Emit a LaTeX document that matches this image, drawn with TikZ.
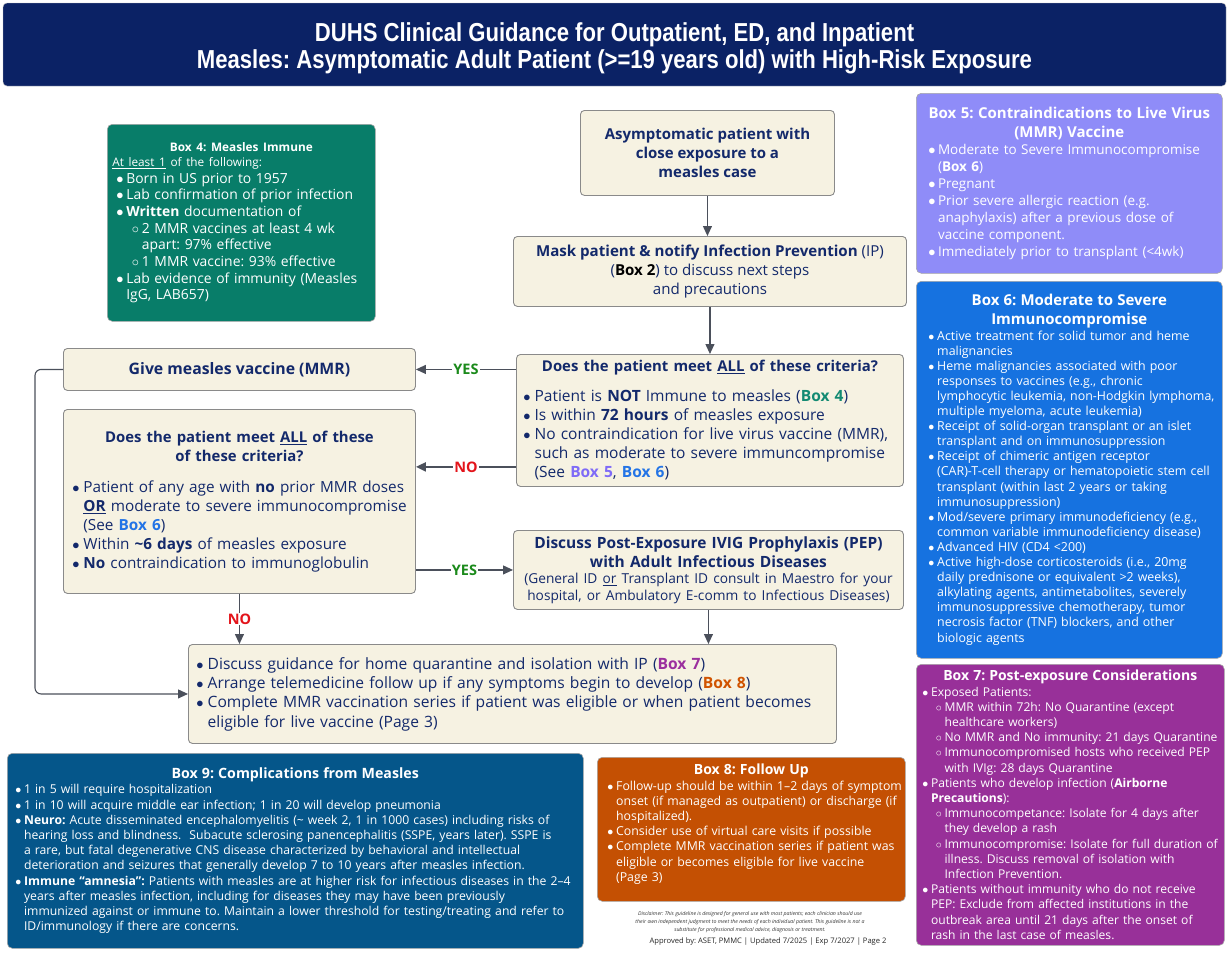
\documentclass[tikz,border=0pt]{standalone}
\usepackage{fontspec}
\setmainfont{Open Sans}
\newfontfamily\titlefont[FakeStretch=0.85]{Liberation Sans}
\usetikzlibrary{arrows.meta}
\frenchspacing

\definecolor{navybar}{HTML}{0B2265}
\definecolor{navytext}{HTML}{13296B}
\definecolor{cream}{HTML}{F6F2E2}
\definecolor{boxedge}{HTML}{8A8A8A}
\definecolor{linegray}{HTML}{4B505B}
\definecolor{boxfour}{HTML}{087D69}
\definecolor{boxfive}{HTML}{8F8CF8}
\definecolor{boxsix}{HTML}{1672E0}
\definecolor{boxseven}{HTML}{983099}
\definecolor{boxeight}{HTML}{C45003}
\definecolor{boxnine}{HTML}{05568A}
\definecolor{yesgreen}{HTML}{1B8A1B}
\definecolor{nored}{HTML}{E3141B}
\definecolor{reffour}{HTML}{138A72}
\definecolor{reffive}{HTML}{7F6BF7}
\definecolor{refsix}{HTML}{2374E6}
\definecolor{refseven}{HTML}{9B2F9E}
\definecolor{refeight}{HTML}{D05300}

% one unbreakable line per call
\newcommand{\bitem}[1]{\mbox{\makebox[0.72em][l]{$\bullet$}#1}}
\newcommand{\bcont}[1]{\mbox{\hspace*{0.72em}#1}}
\newcommand{\sbitem}[1]{\mbox{\hspace*{1.12em}\makebox[0.72em][l]{$\circ$}#1}}
\newcommand{\sbcont}[1]{\mbox{\hspace*{1.84em}#1}}
\newcommand{\headline}[1]{\makebox[\linewidth]{#1}}

\tikzset{
flow/.style={rectangle, rounded corners=4pt, draw=boxedge, line width=0.9pt, fill=cream, text=navytext, anchor=north west, inner sep=0pt},
info/.style={rectangle, rounded corners=5pt, draw=black!35, line width=0.6pt, anchor=north west, text=white, inner sep=0pt, align=left},
arrow/.style={draw=linegray, line width=1.1pt, ->, >={Triangle[length=10pt,width=9pt]}},
answer/.style={fill=white, inner sep=1pt, font=\bfseries\fontsize{14.5}{14.5}\selectfont}}

\begin{document}
\begin{tikzpicture}[x=1pt, y=-1pt]
\useasboundingbox (0,0) rectangle (1230,953);

% title bar
\node[rectangle, rounded corners=4pt, draw=black!25, fill=navybar, minimum width=1223pt, minimum height=83pt] (titlebar) at (614.5,44.5) {};
\node[text=white, align=center, font=\titlefont\bfseries\fontsize{26}{27}\selectfont] (title) at (614.5,48.5) {DUHS Clinical Guidance for Outpatient, ED, and Inpatient\\Measles: Asymptomatic Adult Patient (>=19 years old) with High-Risk Exposure};

% flow chart
\node[flow, minimum width=254pt, minimum height=85pt, align=center, font=\bfseries\fontsize{15}{19}\selectfont] (expo) at (580,110) {Asymptomatic patient with\\close exposure to a\\measles case};
\node[flow, minimum width=393pt, minimum height=70pt, align=center, font=\fontsize{15.1}{19}\selectfont] (mask) at (513,236) {\textbf{Mask patient \& notify Infection Prevention} (IP)\\(\textbf{\color{black}Box 2}) to discuss next steps\\and precautions};
\node[flow, minimum width=387pt, minimum height=132pt, text width=377pt, align=left, font=\fontsize{15.5}{19}\selectfont] (vaxcrit) at (516,354) {%
\headline{\bfseries\fontsize{14.9}{19}\selectfont Does the patient meet \underline{ALL} of these criteria?}\par\vspace{11pt}
{\leftskip=2pt
\bitem{Patient is \textbf{NOT} Immune to measles (\textbf{\color{reffour}Box 4})}\\
\bitem{Is within \textbf{72 hours} of measles exposure}\\
\bitem{No contraindication for live virus vaccine (MMR),}\\
\bcont{such as moderate to severe immuncompromise}\\
\bcont{(See \textbf{\color{reffive}Box 5}, \textbf{\color{refsix}Box 6})}\par}};
\node[flow, minimum width=352pt, minimum height=42pt, font=\bfseries\fontsize{15.8}{19}\selectfont] (givemmr) at (63,348) {Give measles vaccine (MMR)};
\node[flow, minimum width=352pt, minimum height=184pt, text width=342pt, align=left, font=\fontsize{15.3}{19}\selectfont] (ivigcrit) at (63,409) {%
\headline{\bfseries\fontsize{14.9}{19}\selectfont Does the patient meet \underline{ALL} of these}\\
\headline{\bfseries\fontsize{14.9}{19}\selectfont of these criteria?}\par\vspace{12pt}
{\leftskip=4pt
\bitem{Patient of any age with \textbf{no} prior MMR doses}\\
\bcont{\textbf{\underline{OR}} moderate to severe immunocompromise}\\
\bcont{(See \textbf{\color{refsix}Box 6})}\\
\bitem{Within \textbf{\textasciitilde 6 days} of measles exposure}\\
\bitem{\textbf{No} contraindication to immunoglobulin}\par}};
\node[flow, minimum width=390pt, minimum height=79pt, text width=384pt, align=center, font=\fontsize{15.5}{19}\selectfont] (ivig) at (513,530) {%
{\bfseries Discuss Post-Exposure IVIG Prophylaxis (PEP)\\with Adult Infectious Diseases\par}
{\fontsize{13.7}{16.5}\selectfont (General ID \underline{or} Transplant ID consult in Maestro for your\\hospital, or Ambulatory E-comm to Infectious Diseases)\par}};
\node[flow, minimum width=648pt, minimum height=99pt, text width=636pt, align=left, font=\fontsize{15.6}{19.3}\selectfont] (homecare) at (188,644) {\leftskip=2pt
\bitem{Discuss guidance for home quarantine and isolation with IP (\textbf{\color{refseven}Box 7})}\\
\bitem{Arrange telemedicine follow up if any symptoms begin to develop (\textbf{\color{refeight}Box 8})}\\
\bitem{Complete MMR vaccination series if patient was eligible or when patient becomes}\\
\bcont{eligible for live vaccine (Page 3)}\par};

% side boxes
\node[info, fill=boxfour, minimum width=268pt, minimum height=197pt, text width=258pt, font=\fontsize{13.9}{16.7}\selectfont] (immune) at (107,124) {%
\headline{\bfseries\fontsize{11.8}{14}\selectfont Box 4: Measles Immune}\par
{\fontsize{11.8}{15}\selectfont\underline{At least 1} of the following:\par}
{\leftskip=4pt
\bitem{Born in US prior to 1957}\\
\bitem{Lab confirmation of prior infection}\\
\bitem{\textbf{Written} documentation of}\\
\sbitem{2 MMR vaccines at least 4 wk}\\
\sbcont{apart: 97\% effective}\\
\sbitem{1 MMR vaccine: 93\% effective}\\
\bitem{Lab evidence of immunity (Measles}\\
\bcont{IgG, LAB657)}\par}};
\node[info, fill=boxfive, minimum width=306pt, minimum height=180pt, text width=300pt, font=\fontsize{13.5}{17}\selectfont] (contra) at (916,93) {%
{\bfseries\fontsize{15}{19}\selectfont\headline{Box 5: Contraindications to Live Virus}\\\headline{(MMR) Vaccine}\par}
{\leftskip=9pt
\bitem{Moderate to Severe Immunocompromise}\\
\bcont{(\textbf{Box 6})}\\
\bitem{Pregnant}\\
\bitem{Prior severe allergic reaction (e.g.}\\
\bcont{anaphylaxis) after a previous dose of}\\
\bcont{vaccine component.}\\
\bitem{Immediately prior to transplant (<4wk)}\par}};
\node[info, fill=boxsix, minimum width=306pt, minimum height=377pt, text width=300pt, font=\fontsize{12.4}{15.1}\selectfont] (immcomp) at (916,281) {%
{\bfseries\fontsize{15}{19}\selectfont\headline{Box 6: Moderate to Severe}\\\headline{Immunocompromise}\par}
{\leftskip=9pt
\bitem{Active treatment for solid tumor and heme}\\
\bcont{malignancies}\\
\bitem{Heme malignancies associated with poor}\\
\bcont{responses to vaccines (e.g., chronic}\\
\bcont{lymphocytic leukemia, non-Hodgkin lymphoma,}\\
\bcont{multiple myeloma, acute leukemia)}\\
\bitem{Receipt of solid-organ transplant or an islet}\\
\bcont{transplant and on immunosuppression}\\
\bitem{Receipt of chimeric antigen receptor}\\
\bcont{(CAR)-T-cell therapy or hematopoietic stem cell}\\
\bcont{transplant (within last 2 years or taking}\\
\bcont{immunosuppression)}\\
\bitem{Mod/severe primary immunodeficiency (e.g.,}\\
\bcont{common variable immunodeficiency disease)}\\
\bitem{Advanced HIV (CD4 <200)}\\
\bitem{Active high-dose corticosteroids (i.e., 20mg}\\
\bcont{daily prednisone or equivalent >2 weeks),}\\
\bcont{alkylating agents, antimetabolites, severely}\\
\bcont{immunosuppressive chemotherapy, tumor}\\
\bcont{necrosis factor (TNF) blockers, and other}\\
\bcont{biologic agents}\par}};
\node[info, fill=boxseven, minimum width=308pt, minimum height=281pt, text width=302pt, font=\fontsize{12.1}{15.2}\selectfont] (postexp) at (916,664) {%
\headline{\bfseries\fontsize{14}{15}\selectfont Box 7: Post-exposure Considerations}\par
{\leftskip=3pt
\bitem{Exposed Patients:}\\
\sbitem{MMR within 72h: No Quarantine (except}\\
\sbcont{healthcare workers)}\\
\sbitem{No MMR and No immunity: 21 days Quarantine}\\
\sbitem{Immunocompromised hosts who received PEP}\\
\sbcont{with IVIg: 28 days Quarantine}\\
\bitem{Patients who develop infection (\textbf{Airborne}}\\
\bcont{\textbf{Precautions}):}\\
\sbitem{Immunocompetance: Isolate for 4 days after}\\
\sbcont{they develop a rash}\\
\sbitem{Immunocompromise: Isolate for full duration of}\\
\sbcont{illness. Discuss removal of isolation with}\\
\sbcont{Infection Prevention.}\\
\bitem{Patients without immunity who do not receive}\\
\bcont{PEP: Exclude from affected institutions in the}\\
\bcont{outbreak area until 21 days after the onset of}\\
\bcont{rash in the last case of measles.}\par}};
\node[info, fill=boxnine, minimum width=576pt, minimum height=195pt, text width=568pt, font=\fontsize{12.2}{15.2}\selectfont] (complic) at (7,753) {%
\headline{\bfseries\fontsize{14.2}{15}\selectfont Box 9: Complications from Measles}\par
{\leftskip=4pt
\bitem{1 in 5 will require hospitalization}\\
\bitem{1 in 10 will acquire middle ear infection; 1 in 20 will develop pneumonia}\\
\bitem{\textbf{Neuro:} Acute disseminated encephalomyelitis (\textasciitilde{} week 2, 1 in 1000 cases) including risks of}\\
\bcont{hearing loss and blindness.\ \ Subacute sclerosing panencephalitis (SSPE, years later). SSPE is}\\
\bcont{a rare, but fatal degenerative CNS disease characterized by behavioral and intellectual}\\
\bcont{deterioration and seizures that generally develop 7 to 10 years after measles infection.}\\
\bitem{\textbf{Immune “amnesia”:} Patients with measles are at higher risk for infectious diseases in the 2–4}\\
\bcont{years after measles infection, including for diseases they may have been previously}\\
\bcont{immunized against or immune to. Maintain a lower threshold for testing/treating and refer to}\\
\bcont{ID/immunology if there are concerns.}\par}};
\node[info, fill=boxeight, minimum width=308pt, minimum height=144pt, text width=302pt, font=\fontsize{12.3}{15.2}\selectfont] (followup) at (597,757) {%
\headline{\bfseries\fontsize{14}{15}\selectfont Box 8: Follow Up}\par
{\leftskip=7pt
\bitem{Follow-up should be within 1–2 days of symptom}\\
\bcont{onset (if managed as outpatient) or discharge (if}\\
\bcont{hospitalized).}\\
\bitem{Consider use of virtual care visits if possible}\\
\bitem{Complete MMR vaccination series if patient was}\\
\bcont{eligible or becomes eligible for live vaccine}\\
\bcont{(Page 3)}\par}\vspace*{10pt}};

% footer
\node[align=center, text=black!80, font=\itshape\fontsize{5.2}{8}\selectfont] (disclaim) at (750,922) {Disclaimer: This guideline is designed for general use with most patients; each clinician should use\\their own independent judgment to meet the needs of each individual patient. This guideline is not a\\substitute for professional medical advice, diagnosis or treatment.};
\node[text=black!85, font=\fontsize{7.6}{9}\selectfont] (approved) at (768,942) {Approved by: ASET, PMMC | Updated 7/2025 | Exp 7/2027 | Page 2};

% connectors
\coordinate (nostart) at ([yshift=20pt]vaxcrit.south west);
\draw[arrow] (expo) -- (expo |- mask.north);
\draw[arrow] (mask) -- (mask |- vaxcrit.north);
\draw[arrow] (vaxcrit.west |- givemmr) -- node[answer, text=yesgreen] {YES} (givemmr.east);
\draw[arrow, line width=2.2pt] (nostart) -- node[answer, text=nored] {NO} (nostart -| ivigcrit.east);
\draw[arrow] (ivigcrit.east |- ivig.west) -- node[answer, text=yesgreen] {YES} (ivig.west);
\draw[arrow] (ivigcrit.south) -- node[answer, text=nored] {NO} (ivigcrit.south |- homecare.north);
\draw[arrow] (ivig.south) -- (ivig.south |- homecare.north);
\draw[arrow, rounded corners=6pt] (givemmr.west) -- ++(-28,0) |- (homecare.west);
\end{tikzpicture}
\end{document}
